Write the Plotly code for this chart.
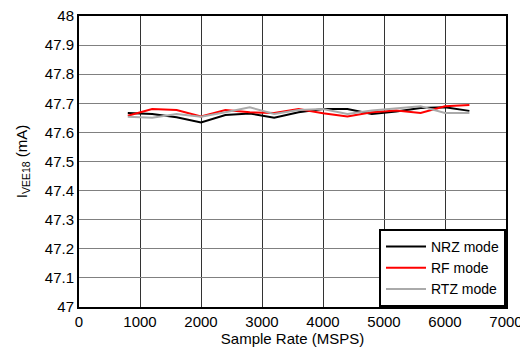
import plotly.graph_objects as go

rate = [800, 1200, 1600, 2000, 2400, 2800, 3200, 3600, 4000, 4400, 4800, 5200, 5600, 6000, 6400]
nrz = [47.667, 47.663, 47.652, 47.634, 47.660, 47.665, 47.650, 47.669, 47.680, 47.680, 47.663, 47.672, 47.684, 47.686, 47.674]
rf = [47.657, 47.680, 47.677, 47.655, 47.677, 47.669, 47.667, 47.680, 47.666, 47.655, 47.669, 47.675, 47.667, 47.690, 47.694]
rtz = [47.654, 47.650, 47.663, 47.654, 47.669, 47.686, 47.663, 47.677, 47.680, 47.663, 47.675, 47.683, 47.690, 47.667, 47.667]

x_ticks = [0, 1000, 2000, 3000, 4000, 5000, 6000, 7000]
y_ticks = [47, 47.1, 47.2, 47.3, 47.4, 47.5, 47.6, 47.7, 47.8, 47.9, 48]
y_labels = ["47", "47.1", "47.2", "47.3", "47.4", "47.5", "47.6", "47.7", "47.8", "47.9", "48"]

fig = go.Figure()
fig.add_trace(go.Scatter(x=rate, y=nrz, mode="lines", name="NRZ mode", line=dict(color="black", width=2)))
fig.add_trace(go.Scatter(x=rate, y=rf, mode="lines", name="RF mode", line=dict(color="#ff0000", width=2)))
fig.add_trace(go.Scatter(x=rate, y=rtz, mode="lines", name="RTZ mode", line=dict(color="#aaaaaa", width=2)))

fig.update_layout(
    width=520, height=346,
    margin=dict(l=71, r=22, t=8, b=47, autoexpand=False),
    paper_bgcolor="white", plot_bgcolor="white",
    font=dict(family="Liberation Sans, Arial, sans-serif", size=15, color="black"),
    showlegend=True,
    legend=dict(
        x=1, y=0, xanchor="right", yanchor="bottom",
        bgcolor="white", bordercolor="black", borderwidth=2,
        font=dict(size=14), itemwidth=40, tracegroupgap=0,
    ),
    xaxis=dict(
        range=[0, 7000], tickmode="array", tickvals=x_ticks,
        ticktext=[str(v) for v in x_ticks],
        showgrid=True, gridcolor="#333333", gridwidth=1,
        showline=True, linecolor="black", linewidth=2, mirror=True,
        ticks="", zeroline=False, automargin=False, ticklabeloverflow="allow",
        title=dict(text="Sample Rate (MSPS)", standoff=0, font=dict(size=15)),
    ),
    yaxis=dict(
        range=[47, 48], tickmode="array", tickvals=y_ticks, ticktext=y_labels,
        showgrid=True, gridcolor="#808080", gridwidth=1,
        showline=True, linecolor="black", linewidth=2, mirror=True,
        ticks="", zeroline=False, automargin=False, ticklabeloverflow="allow",
        title=dict(text="I<sub>VEE18</sub> (mA)", standoff=14, font=dict(size=15)),
    ),
)

fig.write_html("out.html")
